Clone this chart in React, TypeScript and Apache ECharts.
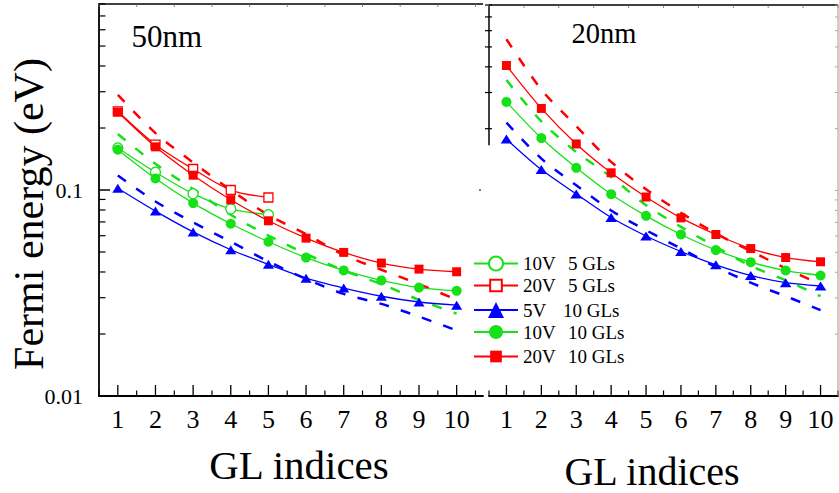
import React, { useEffect, useRef } from 'react';
import * as echarts from 'echarts';

// ---------- data ----------
const glIndices = [1, 2, 3, 4, 5, 6, 7, 8, 9, 10];
const glIndices5 = [1, 2, 3, 4, 5];

// 50 nm panel (measured, solid lines with markers)
const nm50_10V_5GL = [0.160, 0.122, 0.096, 0.081, 0.0759];
const nm50_20V_5GL = [0.241, 0.166, 0.1265, 0.100, 0.092];
const nm50_5V_10GL = [0.102, 0.079, 0.0626, 0.0513, 0.0436, 0.0373, 0.0334, 0.0305, 0.0286, 0.0276];
const nm50_10V_10GL = [0.157, 0.1138, 0.0864, 0.0686, 0.0561, 0.047, 0.0407, 0.0364, 0.0336, 0.0324];
const nm50_20V_10GL = [0.239, 0.162, 0.118, 0.0897, 0.0709, 0.0584, 0.0498, 0.0442, 0.0413, 0.0401];
// 50 nm panel (dashed model curves)
const nm50_model_5V = [0.1175, 0.088, 0.0696, 0.0561, 0.045, 0.037, 0.0313, 0.028, 0.0243, 0.0208];
const nm50_model_10V = [0.187, 0.134, 0.101, 0.0758, 0.0601, 0.049, 0.0407, 0.0349, 0.0293, 0.0251];
const nm50_model_20V = [0.29, 0.189, 0.136, 0.1, 0.0757, 0.0611, 0.0484, 0.041, 0.0349, 0.0293];

// 20 nm panel
const nm20_5V_10GL = [0.178, 0.1265, 0.0963, 0.0739, 0.0601, 0.0505, 0.0435, 0.0386, 0.0356, 0.0343];
const nm20_10V_10GL = [0.270, 0.180, 0.129, 0.096, 0.0753, 0.0611, 0.0513, 0.0448, 0.0408, 0.0386];
const nm20_20V_10GL = [0.406, 0.251, 0.1686, 0.122, 0.093, 0.0736, 0.0611, 0.0522, 0.0472, 0.045];
const nm20_model_5V = [0.214, 0.143, 0.106, 0.080, 0.0641, 0.0522, 0.0425, 0.0356, 0.0306, 0.0262];
const nm20_model_10V = [0.345, 0.217, 0.154, 0.1165, 0.0849, 0.0665, 0.0532, 0.043, 0.0366, 0.0306];
const nm20_model_20V = [0.545, 0.31, 0.206, 0.138, 0.1015, 0.078, 0.0618, 0.0508, 0.0418, 0.035];

// axis ticks / labels
const yLabelValues = [0.01, 0.1];
const yTickLabels = ['0.01', '0.1'];
const yMinorTicks = [0.02, 0.03, 0.04, 0.05, 0.06, 0.07, 0.08, 0.09, 0.2, 0.3, 0.4, 0.5, 0.6, 0.7, 0.8];
const xHalfTicks = [0.5, 1.5, 2.5, 3.5, 4.5, 5.5, 6.5, 7.5, 8.5, 9.5, 10.5];

// legend
const legendVolts = ['10V', '20V', '5V', '10V', '20V'];
const legendGLs = ['5 GLs', '5 GLs', '10 GLs', '10 GLs', '10 GLs'];
const seriesNames = legendVolts.map((v, i) => `${v}  ${legendGLs[i]}`);

const panelLabels = ['50nm', '20nm'];
const xTitle = 'GL indices';
const yTitle = 'Fermi energy (eV)';

// ---------- styling ----------
const FONT = 'Liberation Serif, Times New Roman, serif';
const RED = '#ff0000';
const GREEN = '#16e016';
const BLUE = '#0000ff';

type Seg = { x: number; y: number; ax?: number; ay?: number; bx?: number; by?: number; x2?: number; y2?: number; color: string; w: number };
const seg = (x: number, y: number, ax: number, ay: number, bx: number, by: number, color = '#000', w = 1.2): Seg => ({ x, y, ax, ay, bx, by, color, w });
const span = (x: number, y: number, x2: number, y2: number, color = '#000', w = 1.5): Seg => ({ x, y, x2, y2, color, w });

function frameSeries(gi: number, segs: Seg[]) {
  return {
    type: 'custom',
    xAxisIndex: gi,
    yAxisIndex: gi,
    silent: true,
    clip: false,
    z: 5,
    encode: { x: 0, y: 1 },
    data: segs.map((s) => [s.x, s.y]),
    renderItem: (params: any, api: any) => {
      const s = segs[params.dataIndex];
      const p = api.coord([s.x, s.y]);
      let x1, y1, x2, y2;
      if (s.x2 !== undefined) {
        const q = api.coord([s.x2, s.y2]);
        x1 = p[0]; y1 = p[1]; x2 = q[0]; y2 = q[1];
      } else {
        x1 = p[0] + (s.ax || 0); y1 = p[1] + (s.ay || 0);
        x2 = p[0] + (s.bx || 0); y2 = p[1] + (s.by || 0);
      }
      return { type: 'line', shape: { x1, y1, x2, y2 }, style: { stroke: s.color, lineWidth: s.w } };
    },
  };
}

function solid(gi: number, name: string, xs: number[], ys: number[], color: string, symbol: string, size: any, hollow: boolean) {
  return {
    type: 'line',
    name,
    xAxisIndex: gi,
    yAxisIndex: gi,
    data: xs.map((x, i) => [x, ys[i]]),
    smooth: 0.3,
    symbol,
    symbolSize: size,
    showSymbol: true,
    z: 4,
    lineStyle: { color, width: 1.3 },
    itemStyle: hollow ? { color: '#ffffff', borderColor: color, borderWidth: 1.3 } : { color, borderWidth: 0 },
  };
}

function dashed(gi: number, ys: number[], color: string) {
  return {
    type: 'line',
    name: 'model',
    xAxisIndex: gi,
    yAxisIndex: gi,
    data: glIndices.map((x, i) => [x, ys[i]]),
    smooth: 0.3,
    symbol: 'none',
    z: 3,
    lineStyle: { color, width: 2.5, type: [10, 12.5] },
  };
}

function xAxisCfg(gi: number, max: number) {
  return {
    gridIndex: gi,
    type: 'value',
    min: 0.5,
    max,
    axisLine: { show: true, onZero: false, lineStyle: { color: '#000', width: 1.8 } },
    axisTick: { show: false },
    splitLine: { show: false },
    axisLabel: { customValues: glIndices, fontSize: 26, fontFamily: FONT, color: '#000', margin: 10 },
  };
}

function yAxisCfg(gi: number, showLine: boolean) {
  return {
    gridIndex: gi,
    type: 'log',
    min: 0.01,
    max: 0.8,
    axisLine: { show: showLine, onZero: false, lineStyle: { color: '#000', width: 1.8 } },
    axisTick: { show: false },
    minorTick: { show: false },
    splitLine: { show: false },
    axisLabel: {
      show: showLine,
      showMaxLabel: false,
      fontSize: 22,
      fontFamily: FONT,
      color: '#000',
      margin: 16,
      formatter: (v: number) => {
        for (let i = 0; i < yLabelValues.length; i++) {
          if (Math.abs(v - yLabelValues[i]) < yLabelValues[i] * 1e-6) return yTickLabels[i];
        }
        return '';
      },
    },
  };
}

const leftSegs: Seg[] = [
  ...yMinorTicks.map((v) => seg(0.5, v, 0, 0, 6.5, 0)),
  seg(0.5, 0.1, 0, 0, 11, 0, '#000', 1.5),
  ...glIndices.map((v) => seg(v, 0.01, 0, 0, 0, -11, '#000', 1.3)),
  ...xHalfTicks.map((v) => seg(v, 0.01, 0, 0, 0, -5.5)),
  span(0.5, 0.8, 10.7, 0.8),
  ...xHalfTicks.map((v) => seg(v, 0.8, 0, 0, 0, 3, '#666', 0.8)),
  seg(10.7, 0.1, -4, 0, -2, 0, '#555', 1.5),
];

const rightSegs: Seg[] = [
  span(0.5, 0.8, 0.5, 0.166),
  ...yMinorTicks.filter((v) => v >= 0.2).map((v) => seg(0.5, v, -4, 0, 3, 0)),
  ...glIndices.map((v) => seg(v, 0.01, 0, 0, 0, -11, '#000', 1.3)),
  ...xHalfTicks.map((v) => seg(v, 0.01, 0, 0, 0, -5.5)),
  span(0.5, 0.8, 10.5, 0.8),
  ...xHalfTicks.map((v) => seg(v, 0.8, 0, 0, 0, 3, '#666', 0.8)),
  span(10.5, 0.8, 10.5, 0.01, '#999', 1),
  ...[...yMinorTicks, 0.1].map((v) => seg(10.5, v, 0, 0, -3, 0, '#999', 0.8)),
];

const legendCenters = [263.5, 285.5, 310, 332, 356.5];
const legendIconH = [17.5, 14.6, 20, 17.5, 14.6];
const legendVWidth = [45, 45, 40, 45, 45];

function buildOption() {
  const series: any[] = [
    dashed(0, nm50_model_5V, BLUE),
    dashed(0, nm50_model_10V, GREEN),
    dashed(0, nm50_model_20V, RED),
    solid(0, seriesNames[0], glIndices5, nm50_10V_5GL, GREEN, 'circle', 10, true),
    solid(0, seriesNames[1], glIndices5, nm50_20V_5GL, RED, 'rect', 9, true),
    solid(0, seriesNames[2], glIndices, nm50_5V_10GL, BLUE, 'triangle', [11, 9], false),
    solid(0, seriesNames[3], glIndices, nm50_10V_10GL, GREEN, 'circle', 10, false),
    solid(0, seriesNames[4], glIndices, nm50_20V_10GL, RED, 'rect', 9, false),
    dashed(1, nm20_model_5V, BLUE),
    dashed(1, nm20_model_10V, GREEN),
    dashed(1, nm20_model_20V, RED),
    solid(1, seriesNames[2], glIndices, nm20_5V_10GL, BLUE, 'triangle', [11.5, 9], false),
    solid(1, seriesNames[3], glIndices, nm20_10V_10GL, GREEN, 'circle', 10, false),
    solid(1, seriesNames[4], glIndices, nm20_20V_10GL, RED, 'rect', 9, false),
    frameSeries(0, leftSegs),
    frameSeries(1, rightSegs),
  ];

  const legend = seriesNames.map((name, i) => ({
    data: [name],
    left: 473,
    top: legendCenters[i] - 10,
    orient: 'vertical',
    itemWidth: 44,
    itemHeight: legendIconH[i],
    itemGap: 0,
    padding: 0,
    selectedMode: false,
    textStyle: {
      fontFamily: FONT,
      fontSize: 19,
      color: '#000',
      lineHeight: 20,
      rich: {
        v: { fontFamily: FONT, fontSize: 19, color: '#000', width: legendVWidth[i], lineHeight: 20 },
        g: { fontFamily: FONT, fontSize: 19, color: '#000', lineHeight: 20 },
      },
    },
    formatter: () => `{v|${legendVolts[i]}}{g|${legendGLs[i]}}`,
  }));

  return {
    animation: false,
    backgroundColor: '#ffffff',
    grid: [
      { left: 99, top: 4, width: 384, height: 392 },
      { left: 489, top: 5, width: 349, height: 391 },
    ],
    xAxis: [xAxisCfg(0, 10.7), xAxisCfg(1, 10.5)],
    yAxis: [yAxisCfg(0, true), yAxisCfg(1, false)],
    legend,
    series,
    graphic: [
      {
        type: 'text', x: 29, y: 214, rotation: Math.PI / 2, silent: true,
        style: { text: yTitle, fontSize: 42, fontFamily: FONT, fill: '#000', align: 'center', verticalAlign: 'middle' },
      },
      {
        type: 'text', x: 299, y: 465, silent: true,
        style: { text: xTitle, fontSize: 41, fontFamily: FONT, fill: '#000', align: 'center', verticalAlign: 'middle' },
      },
      {
        type: 'text', x: 652, y: 471.5, silent: true,
        style: { text: xTitle, fontSize: 40, fontFamily: FONT, fill: '#000', align: 'center', verticalAlign: 'middle' },
      },
      {
        type: 'text', x: 131.5, y: 36.2, silent: true,
        style: { text: panelLabels[0], fontSize: 31, fontFamily: FONT, fill: '#000', align: 'left', verticalAlign: 'middle' },
      },
      {
        type: 'text', x: 571.5, y: 33.8, silent: true,
        style: { text: panelLabels[1], fontSize: 28.5, fontFamily: FONT, fill: '#000', align: 'left', verticalAlign: 'middle' },
      },
    ],
  };
}

export default function App() {
  const ref = useRef<HTMLDivElement>(null);
  useEffect(() => {
    if (!ref.current) return;
    const chart = echarts.init(ref.current, undefined, { renderer: 'svg' });
    chart.setOption(buildOption() as any);
    return () => chart.dispose();
  }, []);
  return (
    <div
      ref={ref}
      style={{ position: 'fixed', left: 0, top: 0, width: 839, height: 493, background: '#fff' }}
    />
  );
}
